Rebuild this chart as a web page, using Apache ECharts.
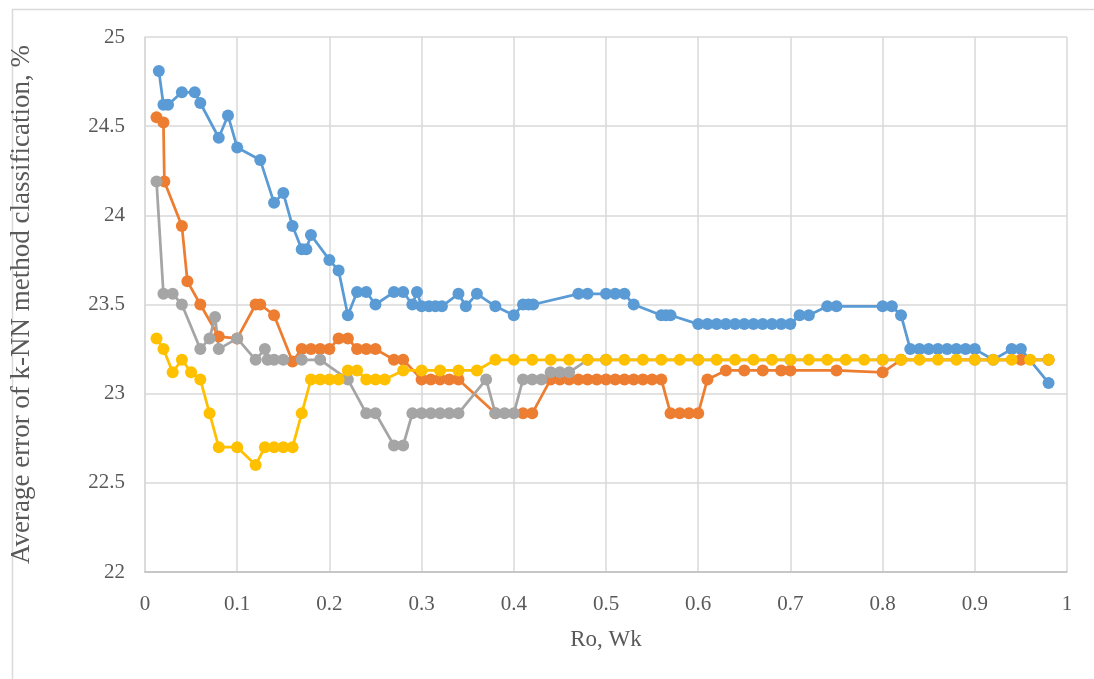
<!DOCTYPE html>
<html>
<head>
<meta charset="utf-8">
<script src="https://cdn.jsdelivr.net/npm/echarts@6/dist/echarts.min.js"></script>
<style>
html,body{margin:0;padding:0;background:#fff;}
#chart{width:1094px;height:679px;}
</style>
</head>
<body>
<div id="chart"></div>
<script>
// ---- data ----
const blueX = [0.015,0.02,0.025,0.04,0.054,0.06,0.08,0.09,0.1,0.125,0.14,0.15,0.16,0.17,0.175,0.18,0.2,0.21,0.22,0.23,0.24,0.25,0.27,0.28,0.29,0.295,0.3,0.308,0.315,0.322,0.34,0.348,0.36,0.38,0.4,0.41,0.416,0.421,0.47,0.48,0.5,0.51,0.52,0.53,0.56,0.565,0.57,0.6,0.61,0.62,0.63,0.64,0.65,0.66,0.67,0.68,0.69,0.7,0.71,0.72,0.74,0.75,0.8,0.81,0.82,0.83,0.84,0.85,0.86,0.87,0.88,0.89,0.9,0.92,0.94,0.95,0.98];
const blueY = [24.81,24.62,24.62,24.69,24.69,24.63,24.435,24.56,24.38,24.31,24.07,24.125,23.94,23.81,23.81,23.89,23.75,23.69,23.44,23.57,23.57,23.5,23.57,23.57,23.5,23.57,23.49,23.49,23.49,23.49,23.56,23.49,23.56,23.49,23.44,23.5,23.5,23.5,23.56,23.56,23.56,23.56,23.56,23.5,23.44,23.44,23.44,23.39,23.39,23.39,23.39,23.39,23.39,23.39,23.39,23.39,23.39,23.39,23.44,23.44,23.49,23.49,23.49,23.49,23.44,23.25,23.25,23.25,23.25,23.25,23.25,23.25,23.25,23.19,23.25,23.25,23.06];

const orangeX = [0.0125,0.02,0.021,0.04,0.046,0.06,0.08,0.1,0.12,0.125,0.14,0.16,0.17,0.18,0.19,0.2,0.21,0.22,0.23,0.24,0.25,0.27,0.28,0.3,0.31,0.32,0.33,0.34,0.38,0.41,0.42,0.44,0.45,0.46,0.47,0.48,0.49,0.5,0.51,0.52,0.53,0.54,0.55,0.56,0.57,0.58,0.59,0.6,0.61,0.63,0.65,0.67,0.69,0.7,0.75,0.8,0.82,0.95,0.98];
const orangeY = [24.55,24.52,24.19,23.94,23.63,23.5,23.32,23.31,23.5,23.5,23.44,23.18,23.25,23.25,23.25,23.25,23.31,23.31,23.25,23.25,23.25,23.19,23.19,23.08,23.08,23.08,23.08,23.08,22.89,22.89,22.89,23.08,23.08,23.08,23.08,23.08,23.08,23.08,23.08,23.08,23.08,23.08,23.08,23.08,22.89,22.89,22.89,22.89,23.08,23.13,23.13,23.13,23.13,23.13,23.13,23.12,23.19,23.19,23.19];

const grayX = [0.0125,0.02,0.03,0.04,0.06,0.07,0.076,0.08,0.1,0.12,0.13,0.133,0.14,0.15,0.17,0.19,0.22,0.24,0.25,0.27,0.28,0.29,0.3,0.31,0.32,0.33,0.34,0.37,0.38,0.39,0.4,0.41,0.42,0.43,0.44,0.45,0.46,0.48,0.5,0.6,0.7,0.8,0.9,0.98];
const grayY = [24.19,23.56,23.56,23.5,23.25,23.31,23.43,23.25,23.31,23.19,23.25,23.19,23.19,23.19,23.19,23.19,23.08,22.89,22.89,22.71,22.71,22.89,22.89,22.89,22.89,22.89,22.89,23.08,22.89,22.89,22.89,23.08,23.08,23.08,23.12,23.12,23.12,23.19,23.19,23.19,23.19,23.19,23.19,23.19];

const yellowX = [0.0125,0.02,0.03,0.04,0.05,0.06,0.07,0.08,0.1,0.12,0.13,0.14,0.15,0.16,0.17,0.18,0.19,0.2,0.21,0.22,0.23,0.24,0.25,0.26,0.28,0.3,0.32,0.34,0.36,0.38,0.4,0.42,0.44,0.46,0.48,0.5,0.52,0.54,0.56,0.58,0.6,0.62,0.64,0.66,0.68,0.7,0.72,0.74,0.76,0.78,0.8,0.82,0.84,0.86,0.88,0.9,0.92,0.94,0.96,0.98];
const yellowY = [23.31,23.25,23.12,23.19,23.12,23.08,22.89,22.7,22.7,22.6,22.7,22.7,22.7,22.7,22.89,23.08,23.08,23.08,23.08,23.13,23.13,23.08,23.08,23.08,23.13,23.13,23.13,23.13,23.13,23.19,23.19,23.19,23.19,23.19,23.19,23.19,23.19,23.19,23.19,23.19,23.19,23.19,23.19,23.19,23.19,23.19,23.19,23.19,23.19,23.19,23.19,23.19,23.19,23.19,23.19,23.19,23.19,23.19,23.19,23.19];

const xTitle = 'Ro, Wk';
const yTitle = 'Average error of k-NN method classification, %';

const zip = (xs, ys) => xs.map((x, i) => [x, ys[i]]);
const font = '"Liberation Serif", "Times New Roman", serif';

const mk = (name, color, xs, ys) => ({
  name, type: 'line', data: zip(xs, ys),
  symbol: 'circle', symbolSize: 12,
  lineStyle: { color, width: 2.75 },
  itemStyle: { color },
  emphasis: { disabled: true }
});

const chart = echarts.init(document.getElementById('chart'), null, { renderer: 'canvas' });
chart.setOption({
  animation: false,
  backgroundColor: '#fff',
  graphic: [{
    type: 'rect', left: 10, top: 7, z: -1,
    shape: { width: 1100, height: 700 },
    style: { fill: 'none', stroke: '#D9D9D9', lineWidth: 1.5 }
  }],
  grid: { left: 144, right: 27, top: 37, bottom: 107, containLabel: false },
  xAxis: {
    type: 'value', min: 0, max: 1, interval: 0.1,
    name: xTitle, nameLocation: 'middle', nameGap: 56,
    nameTextStyle: { fontFamily: font, fontSize: 23, color: '#595959' },
    axisLine: { show: true, lineStyle: { color: '#BFBFBF', width: 1.5 } },
    axisTick: { show: false },
    axisLabel: { fontFamily: font, fontSize: 21, color: '#595959', margin: 22 },
    splitLine: { show: true, lineStyle: { color: '#D9D9D9', width: 1.5 } }
  },
  yAxis: {
    type: 'value', min: 22, max: 25, interval: 0.5,
    name: yTitle, nameLocation: 'middle', nameGap: 110, nameRotate: 90,
    nameTextStyle: { fontFamily: font, fontSize: 27, color: '#595959' },
    axisLine: { show: true, lineStyle: { color: '#D9D9D9', width: 1.5 } },
    axisTick: { show: false },
    axisLabel: { fontFamily: font, fontSize: 21, color: '#595959', margin: 20 },
    splitLine: { show: true, lineStyle: { color: '#D9D9D9', width: 1.5 } }
  },
  series: [
    mk('Blue', '#5B9BD5', blueX, blueY),
    mk('Orange', '#ED7D31', orangeX, orangeY),
    mk('Gray', '#A5A5A5', grayX, grayY),
    mk('Yellow', '#FFC000', yellowX, yellowY)
  ]
});
</script>
</body>
</html>
